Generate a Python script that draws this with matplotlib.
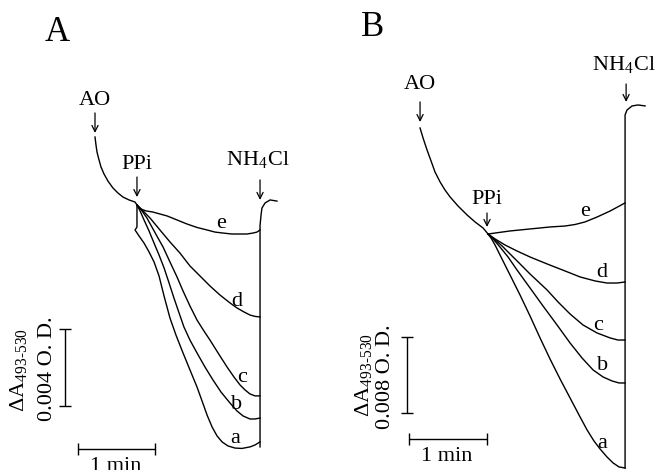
import matplotlib
matplotlib.use("Agg")
import matplotlib.pyplot as plt

plt.rcParams['font.family'] = ['Liberation Serif', 'DejaVu Serif']
plt.rcParams['mathtext.fontset'] = 'stix'

# Panel A: time (s after AO) and delta A (x 10^-3 O.D.)
ao_a_t = [0, 0.78, 1.56, 3.12, 4.68, 7.01, 10.1, 14.0, 17.9, 21.8, 26.5, 31.2, 32.7]
ao_a_A = [0, -0.42, -0.78, -1.19, -1.56, -1.92, -2.29, -2.65, -2.91, -3.12, -3.27, -3.38, -3.53]

a_a_t = [32.7, 32.7, 31.2, 34.3, 38.2, 42.1, 46.0, 49.9, 53.8, 58.4, 63.1, 68.6, 74.0, 79.5, 83.4,
         87.3, 91.2, 95.1, 99.0, 103.6, 109.1, 114.5, 120.8, 124.7, 128.6]
a_a_A = [-3.53, -4.68, -4.83, -5.14, -5.51, -5.97, -6.49, -7.22, -8.26, -9.40, -10.29, -11.22, -12.10,
         -12.99, -13.71, -14.44, -15.06, -15.53, -15.84, -16.05, -16.16, -16.18, -16.10, -16.00, -15.84]
b_a_t = [32.7, 35.1, 38.2, 42.1, 46.0, 49.9, 53.8, 57.7, 61.5, 65.5, 69.3, 74.0, 79.5, 85.7, 91.9,
         98.2, 105.2, 110.6, 115.3, 120.8, 124.7, 128.6]
b_a_A = [-3.53, -3.84, -4.31, -4.88, -5.51, -6.13, -6.80, -7.58, -8.36, -9.14, -9.87, -10.55, -11.22,
         -11.95, -12.62, -13.25, -13.82, -14.23, -14.49, -14.65, -14.65, -14.60]
c_a_t = [32.7, 36.6, 40.5, 45.2, 49.1, 53.0, 58.4, 63.9, 68.6, 74.0, 79.5, 84.9, 89.6, 95.9, 102.9,
         108.3, 113.0, 116.9, 120.8, 124.7, 128.6]
c_a_A = [-3.53, -3.84, -4.21, -4.78, -5.25, -5.71, -6.49, -7.27, -8.00, -8.78, -9.51, -10.08, -10.55,
         -11.22, -11.95, -12.47, -12.88, -13.14, -13.35, -13.45, -13.45]
d_a_t = [32.7, 37.4, 42.9, 50.6, 58.4, 66.2, 74.0, 81.8, 89.6, 97.4, 105.2, 110.6, 116.1, 120.8, 124.7, 128.6]
d_a_A = [-3.53, -3.84, -4.21, -4.83, -5.45, -6.03, -6.70, -7.22, -7.74, -8.21, -8.62, -8.88, -9.09,
         -9.25, -9.32, -9.35]
e_a_t = [32.7, 35.8, 39.7, 45.2, 50.6, 56.1, 63.9, 71.7, 79.5, 87.3, 93.5, 99.7, 106.7, 113.0, 118.4,
         123.1, 126.2, 128.6]
e_a_A = [-3.53, -3.74, -3.84, -3.90, -4.00, -4.10, -4.31, -4.52, -4.70, -4.83, -4.94, -4.99, -5.04,
         -5.04, -5.04, -4.99, -4.94, -4.83]
nh_a_t = [128.6, 128.6, 129.4, 130.1, 132.5, 136.4, 141.8]
nh_a_A = [-16.1, -4.6, -4.05, -3.69, -3.43, -3.27, -3.33]

# Panel B
ao_b_t = [0, 2.31, 5.38, 8.46, 11.5, 15.4, 19.2, 23.1, 29.2, 36.2, 42.3, 48.5, 52.3]
ao_b_A = [0, -1.05, -2.32, -3.47, -4.63, -5.68, -6.53, -7.26, -8.21, -9.16, -9.89, -10.53, -11.16]

a_b_t = [52.3, 54.6, 57.7, 61.5, 69.2, 76.9, 84.6, 92.3, 100.0, 107.7, 115.4, 123.1, 128.5, 133.8,
         138.5, 143.8, 148.5, 153.1, 157.7]
a_b_A = [-11.16, -11.58, -12.32, -13.37, -15.47, -17.58, -19.79, -22.1, -24.32, -26.42, -28.42,
         -30.42, -31.79, -32.95, -33.79, -34.63, -35.26, -35.68, -35.79]
b_b_t = [52.3, 56.2, 61.5, 67.7, 74.6, 84.6, 94.6, 105.4, 115.4, 124.6, 133.1, 140.8, 147.7, 153.1, 157.7]
b_b_A = [-11.16, -11.68, -12.53, -13.58, -14.95, -16.84, -18.74, -20.74, -22.63, -24.21, -25.47,
         -26.21, -26.63, -26.84, -26.84]
c_b_t = [52.3, 56.9, 63.1, 69.2, 75.4, 84.6, 97.7, 106.2, 115.4, 125.4, 136.2, 146.2, 152.3, 157.7]
c_b_A = [-11.16, -11.68, -12.42, -13.26, -14.10, -15.37, -17.05, -18.32, -19.58, -20.74, -21.58,
         -22.10, -22.32, -22.32]
d_b_t = [52.3, 57.7, 65.4, 74.6, 84.6, 97.7, 111.5, 123.1, 134.6, 143.8, 151.5, 157.7]
d_b_A = [-11.16, -11.68, -12.32, -12.95, -13.58, -14.31, -15.05, -15.68, -16.10, -16.32, -16.32, -16.21]
e_b_t = [52.3, 69.2, 84.6, 100.0, 111.5, 119.2, 126.9, 136.2, 146.2, 157.7]
e_b_A = [-11.16, -10.84, -10.63, -10.42, -10.32, -10.16, -9.89, -9.37, -8.74, -7.89]
nh_b_t = [157.7, 157.7, 159.2, 163.1, 167.7, 173.1]
nh_b_A = [-35.79, 1.37, 1.89, 2.32, 2.42, 2.32]

fig = plt.figure(figsize=(6.59, 4.70), dpi=100)

# both panels share the full figure, each with its own data scale
axA = fig.add_axes([0, 0, 1, 1])
axB = fig.add_axes([0, 0, 1, 1])
axB.patch.set_alpha(0)
axA.set_xlim(-74.03, 439.5)
axA.set_ylim(-17.30, 7.117)
axB.set_xlim(-323.1, 183.8)
axB.set_ylim(-36.0, 13.47)
for ax in (axA, axB):
    ax.axis('off')

lw = 1.0
fs = 16
sub = r'ΔA$_{\mathregular{493}\text{-}\mathregular{530}}$'


def arrow(ax, t, y_tail, y_tip):
    ax.annotate('', xy=(t, y_tip), xytext=(t, y_tail),
                arrowprops=dict(arrowstyle='->', lw=0.9, color='black', mutation_scale=11, shrinkA=0, shrinkB=0))


# ---- Panel A ----
for tt, aa in [(ao_a_t, ao_a_A), (a_a_t, a_a_A), (b_a_t, b_a_A), (c_a_t, c_a_A),
               (d_a_t, d_a_A), (e_a_t, e_a_A), (nh_a_t, nh_a_A)]:
    axA.plot(tt, aa, color='black', lw=lw, solid_joinstyle='round')

axA.text(-29.6, 5.45, 'A', fontsize=25, ha='center', va='center')
axA.text(0, 1.92, 'AO', fontsize=fs, ha='center', va='center')
arrow(axA, 0, 1.25, 0.21)
axA.text(32.7, -1.45, 'PPi', fontsize=fs, ha='center', va='center')
arrow(axA, 32.7, -2.08, -3.12)
axA.text(127.0, -1.19, r'NH$_\mathregular{4}$Cl', fontsize=fs, ha='center', va='center')
arrow(axA, 128.6, -2.23, -3.27)

for lab, tt, aa in [('e', 98.2, -4.47), ('d', 110.6, -8.57), ('c', 114.5, -12.52),
                    ('b', 110.6, -13.92), ('a', 109.1, -15.64)]:
    axA.text(tt, aa, lab, fontsize=fs, ha='center', va='center')

# scale bars A: 4 x 10^-3 O.D. and 60 s
axA.errorbar([-23.4], [-11.97], yerr=[[2.0], [2.0]], color='black', lw=lw, capsize=4, capthick=lw)
axA.errorbar([16.8], [-16.21], xerr=[[30], [30]], color='black', lw=lw, capsize=4, capthick=lw)
axA.text(-60.0, -12.1, sub, fontsize=fs, rotation=90, ha='center', va='center')
axA.text(-37.4, -12.05, '0.004 O. D.', fontsize=fs, rotation=90, ha='center', va='center')
axA.text(16.4, -16.62, '1 min', fontsize=fs, ha='center', va='top')

# ---- Panel B ----
for tt, aa in [(ao_b_t, ao_b_A), (a_b_t, a_b_A), (b_b_t, b_b_A), (c_b_t, c_b_A),
               (d_b_t, d_b_A), (e_b_t, e_b_A), (nh_b_t, nh_b_A)]:
    axB.plot(tt, aa, color='black', lw=lw, solid_joinstyle='round')

axB.text(-36.9, 10.53, 'B', fontsize=25, ha='center', va='center')
axB.text(0, 4.53, 'AO', fontsize=fs, ha='center', va='center')
arrow(axB, 0, 2.74, 0.63)
axB.text(51.5, -7.58, 'PPi', fontsize=fs, ha='center', va='center')
arrow(axB, 51.5, -8.95, -10.42)
axB.text(157.0, 6.63, r'NH$_\mathregular{4}$Cl', fontsize=fs, ha='center', va='center')
arrow(axB, 158.5, 4.63, 2.74)

for lab, tt, aa in [('e', 126.9, -8.84), ('d', 140.0, -15.26), ('c', 136.9, -20.74),
                    ('b', 140.0, -24.95), ('a', 140.0, -33.16)]:
    axB.text(tt, aa, lab, fontsize=fs, ha='center', va='center')

# scale bars B: 8 x 10^-3 O.D. and 60 s
axB.errorbar([-10.0], [-26.0], yerr=[[4.0], [4.0]], color='black', lw=lw, capsize=4, capthick=lw)
axB.errorbar([21.5], [-32.7], xerr=[[30], [30]], color='black', lw=lw, capsize=4, capthick=lw)
axB.text(-43.8, -26.05, sub, fontsize=fs, rotation=90, ha='center', va='center')
axB.text(-26.9, -26.16, '0.008 O. D.', fontsize=fs, rotation=90, ha='center', va='center')
axB.text(20.8, -33.58, '1 min', fontsize=fs, ha='center', va='top')

fig.savefig('out.png', dpi=100)
